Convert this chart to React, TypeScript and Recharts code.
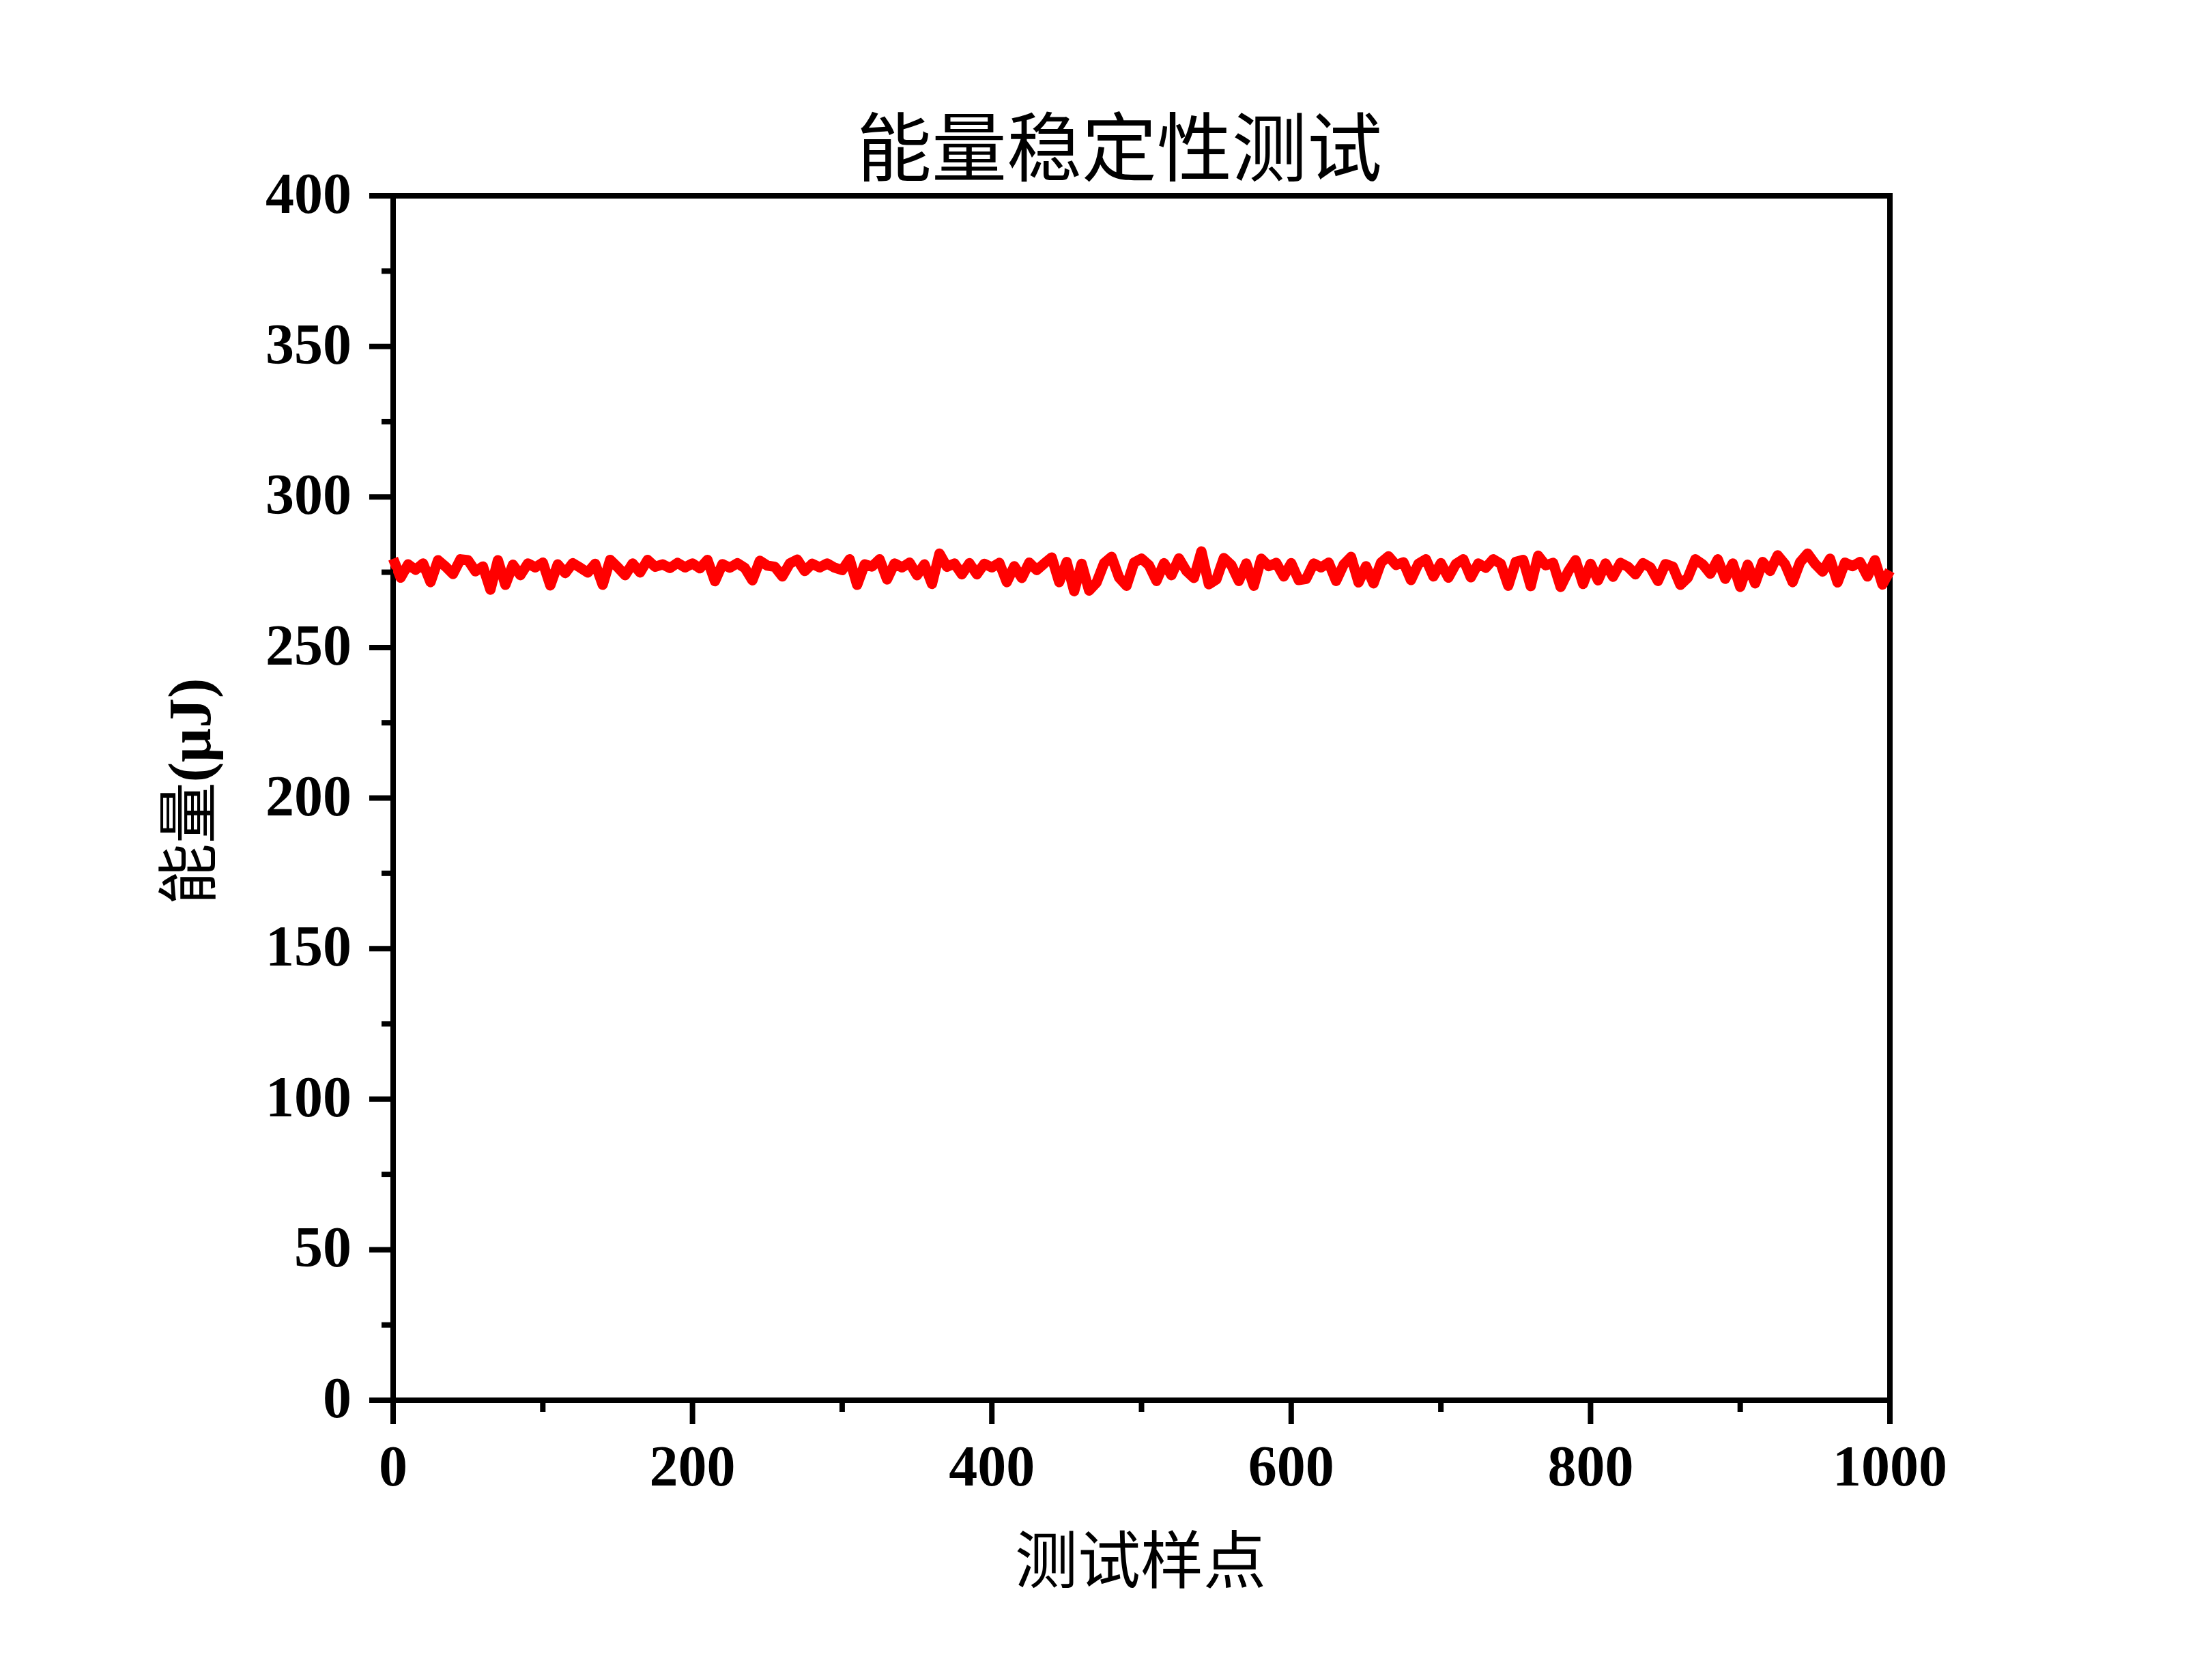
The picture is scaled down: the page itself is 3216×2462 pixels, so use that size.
import { LineChart, Line, XAxis, YAxis, ReferenceArea } from 'recharts'

// 测试样点编号按固定间隔取值 (每 5 个样点一个)
const SAMPLE_STEP = 5

// 能量 (μJ)，从图上读出，每行 10 个点 = 50 个样点
const ENERGY = [
  279.5, 273.2, 277.6, 275.8, 277.9, 271.7, 279.0, 276.9, 274.4, 279.3,
  279.0, 275.3, 276.9, 269.2, 279.0, 270.8, 277.5, 274.0, 277.9, 276.6,
  278.2, 270.6, 277.6, 274.7, 278.0, 276.5, 274.9, 277.8, 270.8, 279.1,
  276.7, 274.0, 277.9, 274.9, 279.1, 276.8, 277.6, 276.4, 278.1, 276.6,
  277.9, 276.3, 279.1, 272.0, 277.7, 276.5, 278.0, 276.4, 272.3, 278.8,
  277.2, 276.8, 273.6, 277.9, 279.2, 275.4, 277.8, 276.6, 277.9, 276.5,
  275.7, 279.3, 270.8, 277.6, 276.9, 279.3, 272.6, 277.9, 276.6, 278.2,
  274.0, 277.6, 271.1, 281.2, 276.8, 277.9, 274.3, 278.0, 274.3, 277.8,
  276.6, 278.1, 271.7, 277.0, 273.1, 278.2, 275.7, 277.9, 279.9, 271.7,
  278.4, 268.7, 277.8, 268.9, 271.6, 278.0, 280.1, 273.2, 270.5, 278.2,
  279.5, 277.3, 272.1, 278.0, 274.0, 279.6, 275.4, 273.1, 281.9, 271.0,
  272.6, 279.7, 277.4, 272.1, 277.9, 270.5, 279.5, 277.0, 278.1, 273.6,
  278.0, 272.4, 272.8, 277.9, 276.6, 278.2, 272.1, 277.5, 280.1, 271.6,
  277.0, 271.3, 278.2, 280.3, 277.4, 278.3, 272.4, 277.8, 279.3, 273.6,
  278.0, 273.2, 277.7, 279.3, 273.3, 277.9, 276.5, 279.3, 277.8, 270.5,
  278.4, 279.1, 270.4, 280.5, 277.3, 278.1, 270.1, 275.2, 279.0, 271.1,
  277.8, 272.3, 277.9, 273.5, 278.1, 276.8, 274.3, 278.0, 276.6, 272.1,
  277.7, 276.8, 270.8, 273.2, 279.3, 277.6, 274.5, 279.3, 272.8, 277.9,
  270.1, 277.5, 271.3, 278.4, 275.4, 280.6, 277.6, 271.7, 278.3, 281.2,
  277.8, 275.2, 279.5, 271.6, 278.2, 277.0, 278.4, 273.6, 279.0, 270.9,
  275.5,
]

const X_TICKS = [0, 100, 200, 300, 400, 500, 600, 700, 800, 900, 1000]
const X_LABELED = [0, 200, 400, 600, 800, 1000]
const Y_TICKS = [0, 25, 50, 75, 100, 125, 150, 175, 200, 225, 250, 275, 300, 325, 350, 375, 400]
const Y_LABELED = [0, 50, 100, 150, 200, 250, 300, 350, 400]

const TITLE = '能量稳定性测试'
const X_TITLE = '测试样点'

const chartData = ENERGY.map((v, i) => ({ x: i * SAMPLE_STEP, energy: v }))

const numFont = '"Liberation Serif", "Times New Roman", serif'
const cjkFont = '"Noto Sans CJK SC", sans-serif'

function XTick(props: any) {
  const { x, y, payload } = props
  const major = X_LABELED.includes(payload.value)
  return (
    <g>
      <line x1={x} y1={y} x2={x} y2={y + (major ? 35 : 17)} stroke="#000" strokeWidth={8} />
      {major && (
        <text x={x} y={y + 125} textAnchor="middle" fontFamily={numFont} fontWeight="bold" fontSize={84} fill="#000">
          {payload.value}
        </text>
      )}
    </g>
  )
}

function YTick(props: any) {
  const { x, y, payload } = props
  const major = Y_LABELED.includes(payload.value)
  return (
    <g>
      <line x1={x} y1={y} x2={x - (major ? 35 : 17)} y2={y} stroke="#000" strokeWidth={8} />
      {major && (
        <text x={x - 61} y={y + 25} textAnchor="end" fontFamily={numFont} fontWeight="bold" fontSize={84} fill="#000">
          {payload.value}
        </text>
      )}
    </g>
  )
}

export default function App() {
  return (
    <div style={{ position: 'absolute', left: 0, top: 0, width: 3216, height: 2462, background: '#fff' }}>
      <LineChart
        width={3216}
        height={2462}
        data={chartData}
        margin={{ top: 287, right: 447, bottom: 0, left: 16 }}
      >
        <XAxis
          dataKey="x"
          type="number"
          domain={[0, 1000]}
          ticks={X_TICKS}
          interval={0}
          height={410}
          axisLine={false}
          tickLine={false}
          tickSize={0}
          tickMargin={0}
          tick={XTick}
        />
        <YAxis
          type="number"
          domain={[0, 400]}
          ticks={Y_TICKS}
          interval={0}
          width={560}
          axisLine={false}
          tickLine={false}
          tickSize={0}
          tickMargin={0}
          tick={YTick}
        />
        <Line
          dataKey="energy"
          type="linear"
          stroke="#ff0000"
          strokeWidth={15}
          strokeLinejoin="round"
          dot={false}
          isAnimationActive={false}
        />
        <ReferenceArea x1={0} x2={1000} y1={0} y2={400} fill="none" stroke="#000" strokeWidth={8} />
      </LineChart>
      <svg
        width={3216}
        height={2462}
        style={{ position: 'absolute', left: 0, top: 0, pointerEvents: 'none' }}
      >
        <text x={1640} y={257} textAnchor="middle" fontFamily={cjkFont} fontSize={110} fill="#000">
          {TITLE}
        </text>
        <text x={1671} y={2320} textAnchor="middle" fontFamily={cjkFont} fontSize={92} fill="#000">
          {X_TITLE}
        </text>
        <text transform="translate(308,1160) rotate(-90)" textAnchor="middle" fill="#000">
          <tspan fontFamily={cjkFont} fontSize={90}>能量</tspan>
          <tspan fontFamily={numFont} fontWeight="bold" fontSize={88}>(μJ)</tspan>
        </text>
      </svg>
    </div>
  )
}
